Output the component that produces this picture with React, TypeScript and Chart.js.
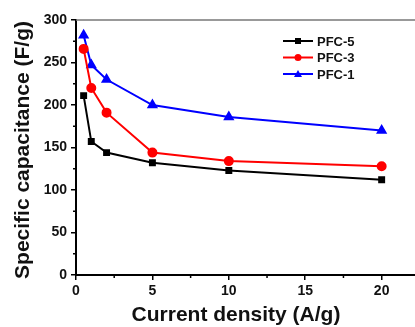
import React, { useEffect, useRef } from "react";
import { Chart, registerables } from "chart.js";

Chart.register(...registerables);

const currentDensity = [0.5, 1, 2, 5, 10, 20];
const pfc5 = [211, 157, 144, 132, 123, 112];
const pfc3 = [266, 220, 191, 144, 134, 128];
const pfc1 = [282, 247, 230, 200, 186, 170];
const seriesNames = ["PFC-5", "PFC-3", "PFC-1"];
const xTicks = [0, 5, 10, 15, 20];
const yTicks = [0, 50, 100, 150, 200, 250, 300];
const xTitle = "Current density (A/g)";
const yTitle = "Specific capacitance (F/g)";

const FONT = "'Liberation Sans', Arial, sans-serif";

const extras = {
  id: "extras",
  afterDraw(chart: any) {
    const { ctx, chartArea } = chart;
    const xs = chart.scales.x;
    const ys = chart.scales.y;
    ctx.save();
    ctx.strokeStyle = "#000";
    ctx.lineWidth = 1.5;
    for (let v = 2.5; v <= 22.5; v += 5) {
      const px = xs.getPixelForValue(v);
      ctx.beginPath();
      ctx.moveTo(px, chartArea.bottom);
      ctx.lineTo(px, chartArea.bottom + 3);
      ctx.stroke();
    }
    for (let v = 25; v < 300; v += 50) {
      const py = ys.getPixelForValue(v);
      ctx.beginPath();
      ctx.moveTo(chartArea.left, py);
      ctx.lineTo(chartArea.left - 3, py);
      ctx.stroke();
    }
    // top frame
    ctx.strokeStyle = "#777";
    ctx.lineWidth = 1.5;
    ctx.beginPath();
    ctx.moveTo(chartArea.left, chartArea.top);
    ctx.lineTo(chartArea.right, chartArea.top);
    ctx.stroke();

    // axis titles
    ctx.fillStyle = "#111";
    ctx.font = `bold 21px ${FONT}`;
    ctx.textAlign = "center";
    ctx.textBaseline = "middle";
    ctx.fillText(xTitle, 236, 315);
    ctx.save();
    ctx.translate(23, 150);
    ctx.rotate(-Math.PI / 2);
    ctx.fillText(yTitle, 0, 0);
    ctx.restore();

    // legend
    const ds = chart.data.datasets;
    const lx = 283;
    const ly = 41;
    ctx.font = `bold 13px ${FONT}`;
    ctx.textBaseline = "middle";
    ds.forEach((d: any, i: number) => {
      const y = ly + i * 16.5;
      ctx.strokeStyle = d.borderColor;
      ctx.lineWidth = 2;
      ctx.beginPath();
      ctx.moveTo(lx, y);
      ctx.lineTo(lx + 30, y);
      ctx.stroke();
      ctx.fillStyle = d.borderColor;
      const cx = lx + 15;
      if (d.pointStyle === "rect") {
        ctx.fillRect(cx - 3, y - 3, 6, 6);
      } else if (d.pointStyle === "circle") {
        ctx.beginPath();
        ctx.arc(cx, y, 3.5, 0, Math.PI * 2);
        ctx.fill();
      } else {
        ctx.beginPath();
        ctx.moveTo(cx, y - 4);
        ctx.lineTo(cx + 4, y + 3);
        ctx.lineTo(cx - 4, y + 3);
        ctx.closePath();
        ctx.fill();
      }
      ctx.fillStyle = "#111";
      ctx.textAlign = "left";
      ctx.fillText(d.label, lx + 34, y + 1);
    });
    ctx.restore();
  },
};

export default function App() {
  const ref = useRef<HTMLCanvasElement>(null);
  useEffect(() => {
    document.body.style.margin = "0";
    document.body.style.overflow = "hidden";
    const mk = (vals: number[]) => currentDensity.map((x, i) => ({ x, y: vals[i] }));
    const chart = new Chart(ref.current!, {
      type: "line",
      data: {
        datasets: [
          { label: seriesNames[0], data: mk(pfc5), borderColor: "#000000", backgroundColor: "#000000", pointStyle: "rect", pointRadius: 3.5, borderWidth: 2, tension: 0 },
          { label: seriesNames[1], data: mk(pfc3), borderColor: "#ff0000", backgroundColor: "#ff0000", pointStyle: "circle", pointRadius: 4, borderWidth: 2, tension: 0 },
          { label: seriesNames[2], data: mk(pfc1), borderColor: "#0000ff", backgroundColor: "#0000ff", pointStyle: "triangle", pointRadius: 4.5, borderWidth: 2, tension: 0 },
        ],
      },
      options: {
        animation: false,
        responsive: false,
        devicePixelRatio: 1,
        layout: { padding: { top: 20, right: 0, left: 0, bottom: 0 } },
        plugins: { legend: { display: false }, tooltip: { enabled: false } },
        scales: {
          x: {
            type: "linear",
            min: 0,
            max: 23,
            afterBuildTicks: (s: any) => { s.ticks = xTicks.map((v) => ({ value: v })); },
            afterFit: (s: any) => { s.height = 52; },
            ticks: { color: "#111", font: { family: FONT, weight: "bold", size: 14 }, padding: 3 },
            grid: { display: true, drawOnChartArea: false, drawTicks: true, tickLength: 5, color: "#000", lineWidth: 1.5 },
            border: { display: true, color: "#000", width: 2 },
            title: { display: false },
          },
          y: {
            type: "linear",
            min: 0,
            max: 300,
            afterBuildTicks: (s: any) => { s.ticks = yTicks.map((v) => ({ value: v })); },
            afterFit: (s: any) => { s.width = 76; },
            ticks: { color: "#111", font: { family: FONT, weight: "bold", size: 14 }, padding: 4 },
            grid: { display: true, drawOnChartArea: false, drawTicks: true, tickLength: 5, color: "#000", lineWidth: 1.5 },
            border: { display: true, color: "#000", width: 2 },
            title: { display: false },
          },
        },
      },
      plugins: [extras],
    } as any);
    return () => chart.destroy();
  }, []);
  return <canvas ref={ref} width={434} height={327} style={{ display: "block" }} />;
}
